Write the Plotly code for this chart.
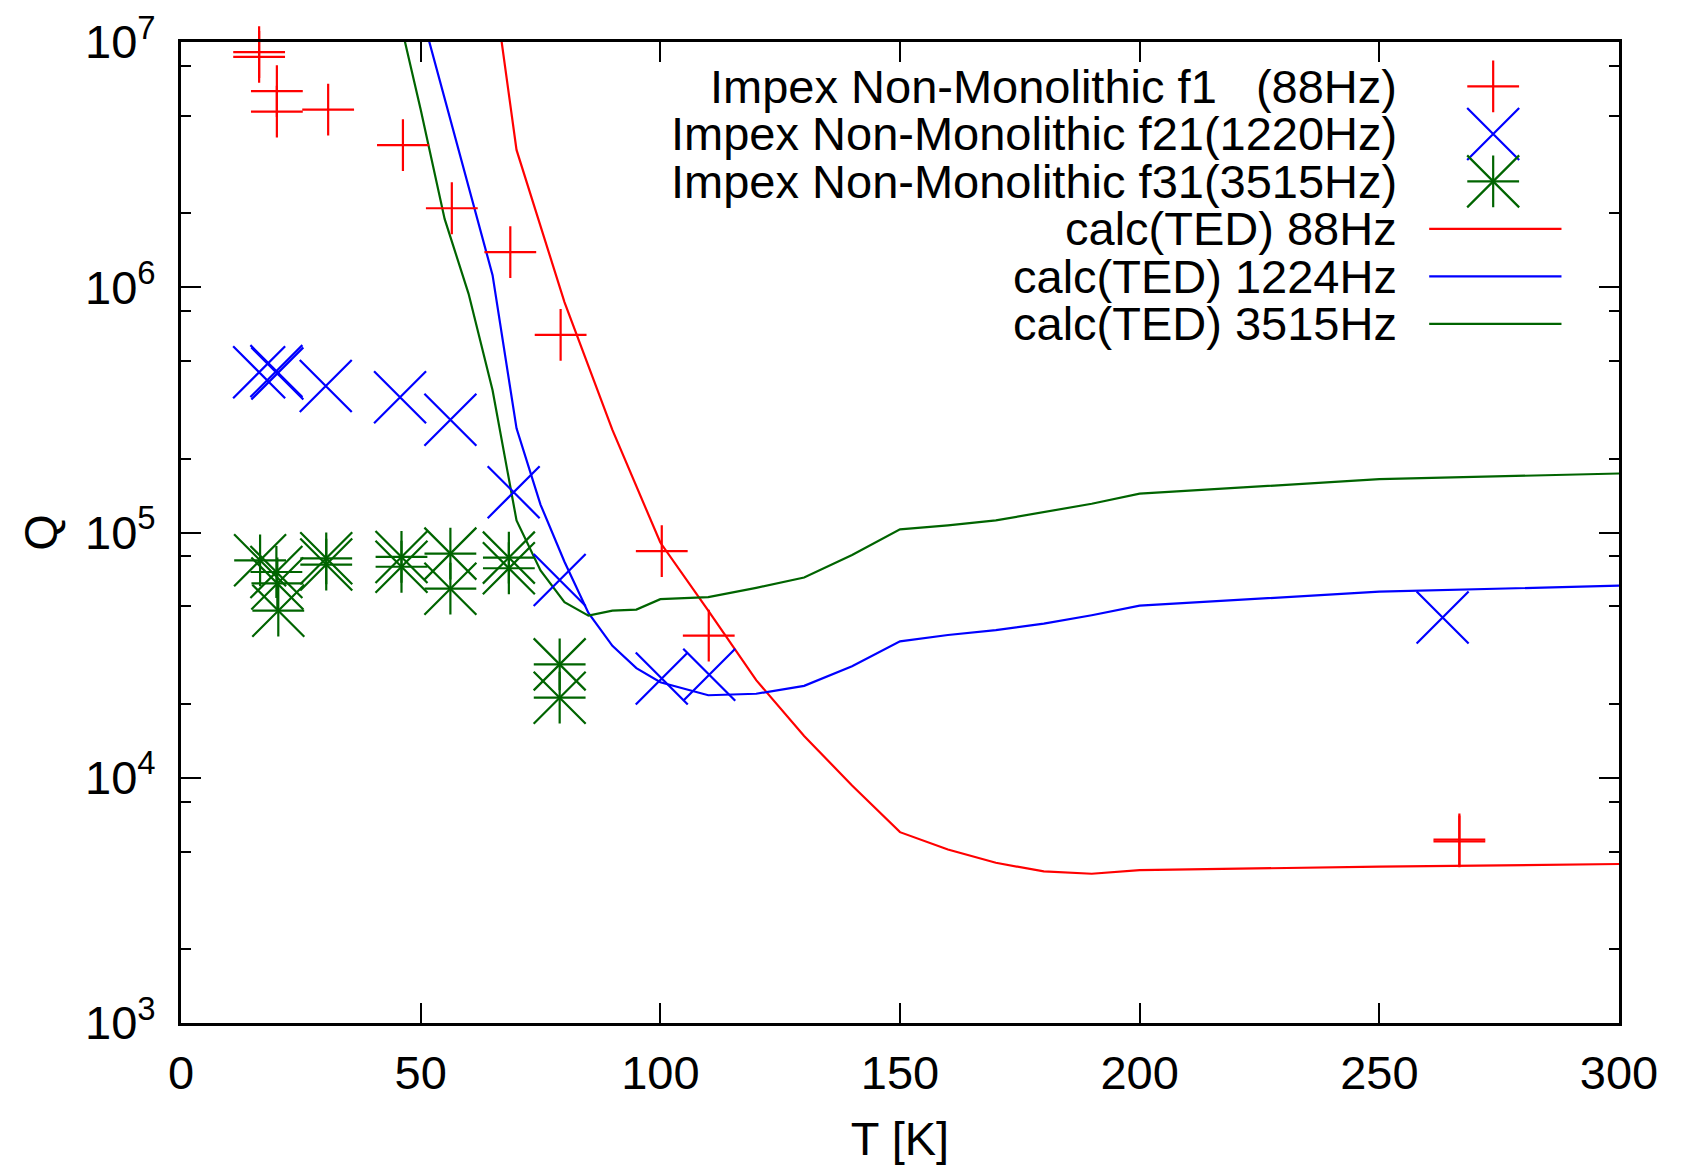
import plotly.graph_objects as go

RED = "#ff0000"
BLUE = "#0000ff"
GREEN = "#006400"
FONT = "Liberation Sans, Arial, Helvetica, sans-serif"
FS = 47

# measured Q of the Impex non-monolithic sample
f1_T = [16.3, 16.3, 20.0, 20.0, 30.7, 46.3, 56.5, 68.7, 79.2, 100.3, 110.1, 266.7, 266.7]
f1_Q = [9.1e6, 8.7e6, 6.3e6, 5.2e6, 5.3e6, 3.8e6, 2.1e6, 1.39e6, 6.4e5, 8.4e4, 3.8e4, 5.5e3, 5.6e3]

f21_T = [16.3, 19.9, 20.1, 30.2, 45.7, 56.2, 69.4, 79.0, 100.3, 110.2, 263.2]
f21_Q = [4.5e5, 4.55e5, 4.45e5, 3.96e5, 3.56e5, 2.88e5, 1.46e5, 6.4e4, 2.54e4, 2.63e4, 4.5e4]

f31_T = [16.5, 19.9, 20.1, 20.3, 30.3, 30.3, 46.0, 46.0, 56.2, 56.2, 68.4, 68.4, 79.0, 79.0]
f31_Q = [7.7e4, 6.9e4, 6.2e4, 4.8e4, 7.85e4, 7.4e4, 7.95e4, 7.25e4, 8.2e4, 5.9e4,
         7.9e4, 7.15e4, 2.9e4, 2.12e4]

# thermoelastic damping calculation
ted88_T = [65, 70, 80, 90, 100, 110, 120, 130, 140, 150, 160, 170, 180, 190, 200, 250, 300]
ted88_Q = [1.86e7, 3.63e6, 8.7e5, 2.62e5, 9.1e4, 4.8e4, 2.5e4, 1.48e4, 9.3e3, 6.0e3,
           5.1e3, 4.5e3, 4.15e3, 4.06e3, 4.2e3, 4.34e3, 4.45e3]

ted1224_T = [50, 55, 60, 65, 70, 75, 80, 85, 90, 95, 100, 110, 120, 130, 140, 150,
             160, 170, 180, 190, 200, 250, 300]
ted1224_Q = [1.35e7, 5.9e6, 2.54e6, 1.12e6, 2.66e5, 1.3e5, 7.6e4, 4.7e4, 3.45e4, 2.8e4,
             2.45e4, 2.17e4, 2.2e4, 2.37e4, 2.85e4, 3.6e4, 3.82e4, 4.0e4, 4.25e4, 4.6e4,
             5.03e4, 5.74e4, 6.07e4]

ted3515_T = [45, 50, 55, 60, 65, 70, 75, 80, 85, 90, 95, 100, 110, 120, 130, 140, 150,
             160, 170, 180, 190, 200, 250, 300]
ted3515_Q = [1.4e7, 5.3e6, 1.9e6, 9.4e5, 3.8e5, 1.12e5, 7.0e4, 5.2e4, 4.58e4, 4.8e4,
             4.85e4, 5.35e4, 5.45e4, 5.95e4, 6.55e4, 8.1e4, 1.03e5, 1.07e5, 1.12e5,
             1.21e5, 1.31e5, 1.44e5, 1.65e5, 1.74e5]

legend_labels = [
    "Impex Non-Monolithic f1\u00a0\u00a0\u00a0(88Hz)",
    "Impex Non-Monolithic f21(1220Hz)",
    "Impex Non-Monolithic f31(3515Hz)",
    "calc(TED) 88Hz",
    "calc(TED) 1224Hz",
    "calc(TED) 3515Hz",
]

y_major = [1e3, 1e4, 1e5, 1e6, 1e7]
y_major_text = [f"10<sup style='font-size:85%'>{e}</sup>" for e in range(3, 8)]
y_minor = [m * 10 ** e for e in range(3, 7) for m in (2, 5, 8)]

PLUS = dict(symbol="cross-thin", size=37)
CROSS = dict(symbol="x-thin", size=52)


def marker(shape, color):
    return dict(**shape, color=color, line=dict(color=color, width=2.2))


fig = go.Figure()

# calculated curves
for T, Q, c in [(ted88_T, ted88_Q, RED), (ted1224_T, ted1224_Q, BLUE), (ted3515_T, ted3515_Q, GREEN)]:
    fig.add_trace(go.Scatter(x=T, y=Q, mode="lines", line=dict(color=c, width=2.2),
                             showlegend=False, hoverinfo="skip"))

# measured points (gnuplot style: +, x, and asterisk = + over x)
fig.add_trace(go.Scatter(x=f1_T, y=f1_Q, mode="markers", marker=marker(PLUS, RED),
                         showlegend=False, cliponaxis=False))
fig.add_trace(go.Scatter(x=f21_T, y=f21_Q, mode="markers", marker=marker(CROSS, BLUE),
                         showlegend=False, cliponaxis=False))
for shape in (PLUS, CROSS):
    fig.add_trace(go.Scatter(x=f31_T, y=f31_Q, mode="markers", marker=marker(shape, GREEN),
                             showlegend=False, cliponaxis=False))

# hand-made legend: text right-aligned, key on the right (gnuplot look)
row_top, row_step = 0.9547, 0.0484
text_x, key_x, line_x0, line_x1 = 0.847, 0.9125, 0.868, 0.96
rows = [row_top - i * row_step for i in range(len(legend_labels))]
for label, y in zip(legend_labels, rows):
    fig.add_annotation(x=text_x, y=y, xref="paper", yref="paper", text=label,
                       showarrow=False, xanchor="right", yanchor="middle",
                       font=dict(size=FS, color="black", family=FONT))
for shapes, c, y in [((PLUS,), RED, rows[0]), ((CROSS,), BLUE, rows[1]), ((PLUS, CROSS), GREEN, rows[2])]:
    for shape in shapes:
        fig.add_trace(go.Scatter(x=[key_x], y=[y], xaxis="x2", yaxis="y2", mode="markers",
                                 marker=marker(shape, c), showlegend=False,
                                 cliponaxis=False, hoverinfo="skip"))
for c, y in zip([RED, BLUE, GREEN], rows[3:]):
    fig.add_shape(type="line", xref="paper", yref="paper", x0=line_x0, x1=line_x1,
                  y0=y, y1=y, line=dict(color=c, width=2.2))

axis_common = dict(
    showline=True, linecolor="black", linewidth=3, mirror="allticks",
    ticks="inside", ticklen=20, tickwidth=2, tickcolor="black",
    showgrid=False, zeroline=False, automargin=False,
    tickfont=dict(size=FS, color="black", family=FONT),
)

fig.update_layout(
    width=1693, height=1167,
    margin=dict(l=173, r=82, t=34, b=152),
    paper_bgcolor="white", plot_bgcolor="white",
    font=dict(family=FONT, size=FS, color="black"),
    showlegend=False,
    xaxis=dict(
        **axis_common, range=[0, 300], tickmode="linear", tick0=0, dtick=50,
        ticklabelstandoff=7,
        title=dict(text="T [K]", font=dict(size=FS), standoff=24),
    ),
    yaxis=dict(
        **axis_common, type="log", range=[3, 7],
        tickmode="array", tickvals=y_major, ticktext=y_major_text,
        ticklabelstandoff=13,
        minor=dict(tickmode="array", tickvals=y_minor, ticks="inside", ticklen=10,
                   tickwidth=2, tickcolor="black", showgrid=False),
        title=dict(text="Q", font=dict(size=FS), standoff=13),
    ),
    xaxis2=dict(overlaying="x", anchor="y2", range=[0, 1], visible=False),
    yaxis2=dict(overlaying="y", anchor="x2", range=[0, 1], visible=False),
)

fig.write_html("out.html")
